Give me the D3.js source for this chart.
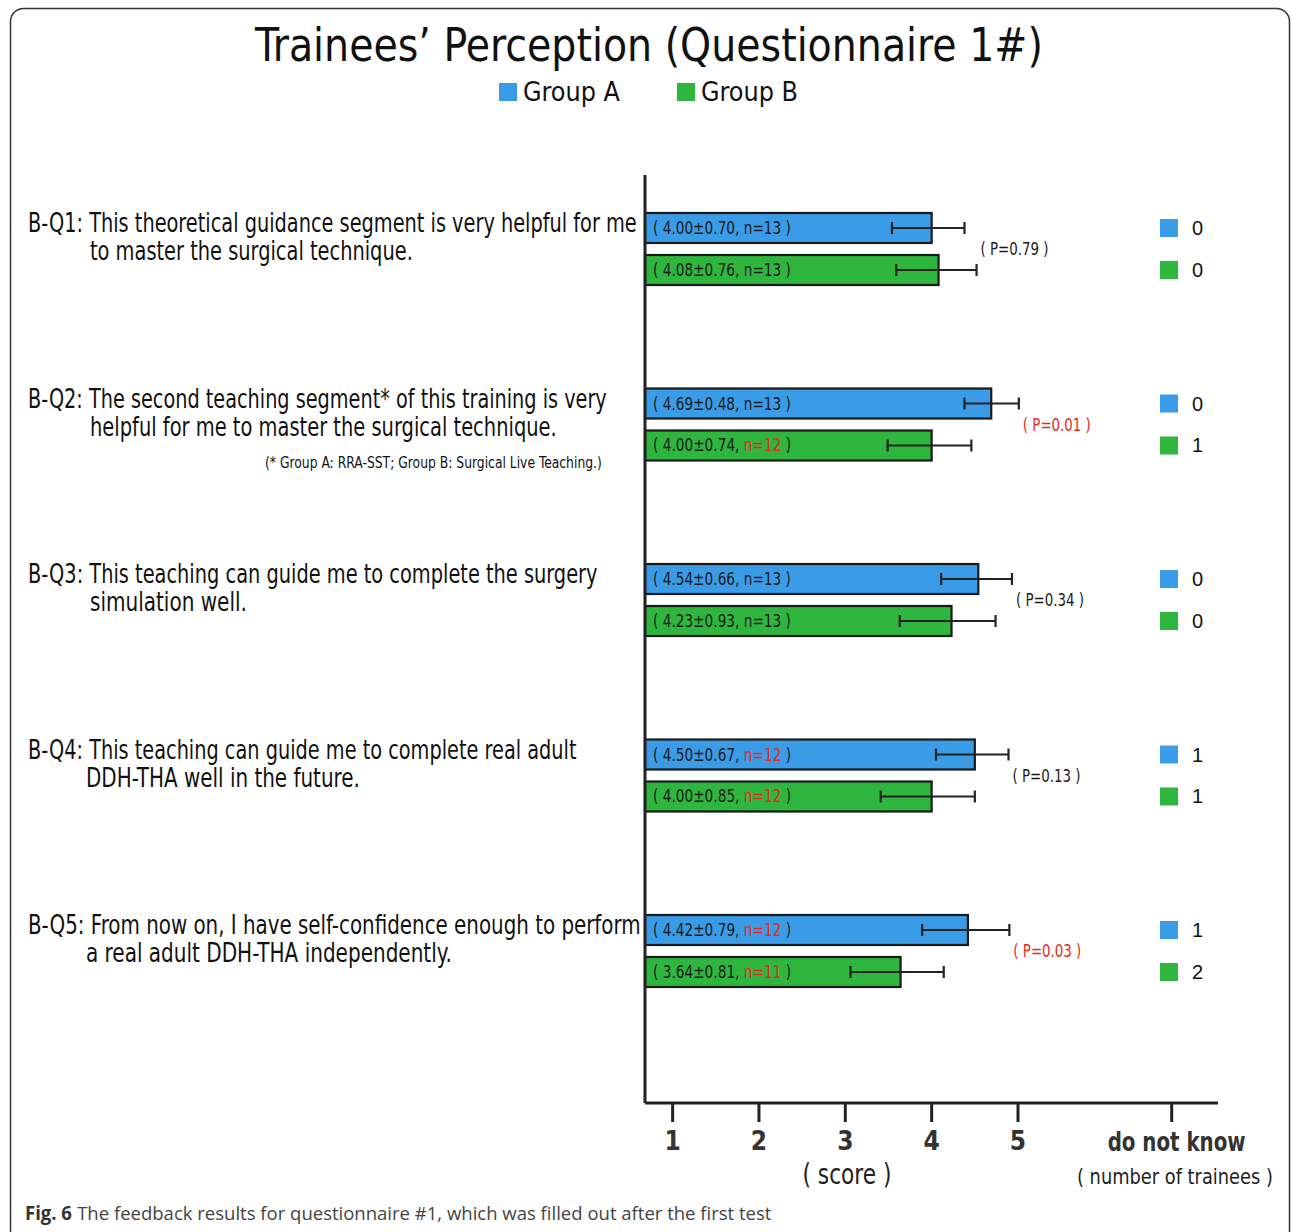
<!DOCTYPE html>
<html><head><meta charset="utf-8">
<script src="https://cdn.jsdelivr.net/npm/d3@7"></script>
<style>body{margin:0;background:#fff}svg{display:block}</style>
</head><body>
<script>
// ---- data ----
const questions = ["B-Q1","B-Q2","B-Q3","B-Q4","B-Q5"];
const questionLines = [
  ["B-Q1: This theoretical guidance segment is very helpful for me","to master the surgical technique."],
  ["B-Q2: The second teaching segment* of this training is very","helpful for me to master the surgical technique."],
  ["B-Q3: This teaching can guide me to complete the surgery","simulation well."],
  ["B-Q4: This teaching can guide me to complete real adult","DDH-THA well in the future."],
  ["B-Q5: From now on, I have self-confidence enough to perform","a real adult DDH-THA independently."]
];
const groups = ["Group A","Group B"];
const meanA = [4.00, 4.69, 4.54, 4.50, 4.42];
const sdA   = [0.70, 0.48, 0.66, 0.67, 0.79];
const nA    = [13, 13, 13, 12, 12];
const meanB = [4.08, 4.00, 4.23, 4.00, 3.64];
const sdB   = [0.76, 0.74, 0.93, 0.85, 0.81];
const nB    = [13, 12, 13, 12, 11];
// error bar ends as drawn in the figure
const errLowA  = [3.54, 4.38, 4.11, 4.05, 3.89];
const errHighA = [4.38, 5.01, 4.93, 4.89, 4.90];
const errLowB  = [3.59, 3.49, 3.63, 3.41, 3.06];
const errHighB = [4.52, 4.46, 4.74, 4.50, 4.14];
const pValues  = ["0.79","0.01","0.34","0.13","0.03"];
const pSignificant = [false,true,false,false,true];
const dontKnowA = [0,0,0,1,1];
const dontKnowB = [0,1,0,1,2];
const nFull = 13;
const tickValues = [1,2,3,4,5,6.78];
const tickLabels = ["1","2","3","4","5","do not know"];

// ---- layout ----
const W = 1292, H = 1232;
const colors = {"Group A":"#3a9be6","Group B":"#2eb63e"};
const red = "#e8281e";
const narrow = "'Liberation Sans Narrow','DejaVu Sans Condensed',sans-serif";

const svg = d3.select("body").append("svg").attr("width",W).attr("height",H);

// helper: pieces of text (possibly differently coloured) laid out in a run,
// horizontally condensed to a target width while keeping glyph height.
function condensed(x, y, parts, fs, targetW, family, anchor){
  const g = svg.append("g");
  const nodes = parts.map(p=> g.append("text").attr("y",0).attr("font-family",family)
     .attr("font-size",fs).attr("font-weight",p.bold?"bold":"normal").attr("fill",p.color).text(p.t));
  const gap = fs*0.28;
  let cx = 0;
  nodes.forEach((n,i)=>{ n.attr("x",cx); cx += n.node().getComputedTextLength() + (i<nodes.length-1?gap:0); });
  const total = cx;
  const s = targetW ? targetW/total : 1;
  const x0 = anchor==="middle" ? x - total*s/2 : x;
  g.attr("transform",`translate(${x0},${y}) scale(${s},1)`);
  return g;
}

// frame
svg.append("rect").attr("x",10.5).attr("y",8.5).attr("width",1279).attr("height",1260)
  .attr("rx",13).attr("fill","none").attr("stroke","#333").attr("stroke-width",1.5);

// title
condensed(649, 61, [{t:"Trainees\u2019 Perception (Questionnaire 1#)",color:"#111"}], 46, 788, narrow, "middle");

// legend
const legX = [499, 677];
groups.forEach((g,i)=>{
  svg.append("rect").attr("x",legX[i]).attr("y",83).attr("width",18).attr("height",18).attr("fill",colors[g]);
  condensed(legX[i]+24, 101, [{t:g,color:"#111"}], 26, 97, narrow);
});

// scales
const x = d3.scaleLinear().domain([0.68,5]).range([645,1018]);
const y = d3.scaleBand().domain(questions).range([200,1077.5]);
const yIn = d3.scaleBand().domain(groups).range([13,85]).paddingInner(0.2857);
const axisX = x.range()[0];
const axisY = 1103;

// data rows
const rows = [];
questions.forEach((q,i)=>{
  rows.push({q,i,g:"Group A",mean:meanA[i],sd:sdA[i],n:nA[i],lo:errLowA[i],hi:errHighA[i],dk:dontKnowA[i]});
  rows.push({q,i,g:"Group B",mean:meanB[i],sd:sdB[i],n:nB[i],lo:errLowB[i],hi:errHighB[i],dk:dontKnowB[i]});
});
const yTop = d=> y(d.q)+yIn(d.g);
const bw = yIn.bandwidth();

// bars
svg.append("g").selectAll("rect").data(rows).join("rect")
  .attr("x",axisX).attr("y",yTop).attr("width",d=>x(d.mean)-axisX).attr("height",bw)
  .attr("fill",d=>colors[d.g]).attr("stroke","#1a1a1a").attr("stroke-width",2.2);

// error bars
const eb = svg.append("g").attr("stroke","#222").attr("stroke-width",2.2);
rows.forEach(d=>{
  const cy = yTop(d)+bw/2;
  eb.append("line").attr("x1",x(d.lo)).attr("x2",x(d.hi)).attr("y1",cy).attr("y2",cy);
  eb.append("line").attr("x1",x(d.lo)).attr("x2",x(d.lo)).attr("y1",cy-6).attr("y2",cy+6);
  eb.append("line").attr("x1",x(d.hi)).attr("x2",x(d.hi)).attr("y1",cy-6).attr("y2",cy+6);
});

// labels inside bars
rows.forEach(d=>{
  const head = `( ${d.mean.toFixed(2)}\u00b1${d.sd.toFixed(2)},`;
  const parts = d.n<nFull
    ? [{t:head,color:"#1a1a1a"},{t:`n=${d.n}`,color:red},{t:")",color:"#1a1a1a"}]
    : [{t:`${head} n=${d.n} )`,color:"#1a1a1a"}];
  condensed(axisX+8, yTop(d)+bw/2+6, parts, 18, 138, narrow);
});

// p values
questions.forEach((q,i)=>{
  const xr = x(Math.max(errHighA[i],errHighB[i]))+4;
  condensed(xr, y(q)+49+6, [{t:`( P=${pValues[i]} )`, color: pSignificant[i]?red:"#1a1a1a"}], 18, 68, narrow);
});

// do not know column
rows.forEach(d=>{
  const cy = yTop(d)+bw/2;
  svg.append("rect").attr("x",1160).attr("y",cy-9).attr("width",18).attr("height",18).attr("fill",colors[d.g]);
  svg.append("text").attr("x",1192).attr("y",cy+7).attr("font-family","'Liberation Sans',sans-serif")
    .attr("font-size",20).attr("fill","#111").text(d.dk);
});

// question labels
questions.forEach((q,i)=>{
  const base = y(q)+32;
  const widths = [[609,323],[579,467],[570,157],[549,274],[613,366]][i];
  const indent = [90,90,90,86,86][i];
  condensed(28, base, [{t:questionLines[i][0],color:"#111"}], 26, widths[0], narrow);
  condensed(indent, base+28, [{t:questionLines[i][1],color:"#111"}], 26, widths[1], narrow);
});
condensed(265, y("B-Q2")+92, [{t:"(* Group A: RRA-SST; Group B: Surgical Live Teaching.)",color:"#111"}], 15, 337, narrow);

// axes
svg.append("line").attr("x1",axisX).attr("x2",axisX).attr("y1",175).attr("y2",axisY)
  .attr("stroke","#222").attr("stroke-width",3);
svg.append("line").attr("x1",axisX).attr("x2",1218).attr("y1",axisY).attr("y2",axisY)
  .attr("stroke","#222").attr("stroke-width",3);
tickValues.forEach((v,i)=>{
  svg.append("line").attr("x1",x(v)).attr("x2",x(v)).attr("y1",axisY).attr("y2",axisY+19)
    .attr("stroke","#222").attr("stroke-width",3);
  const isText = i===tickValues.length-1;
  if(isText){
    condensed(x(v)+5, 1151, [{t:tickLabels[i],color:"#333",bold:true}], 26, 138, narrow, "middle");
  } else {
    svg.append("text").attr("x",x(v)).attr("y",1150).attr("text-anchor","middle")
      .attr("font-family",narrow).attr("font-weight","bold").attr("font-size",26).attr("fill","#333")
      .text(tickLabels[i]);
  }
});
condensed(847, 1184, [{t:"( score )",color:"#222"}], 28, 89, narrow, "middle");
condensed(1175, 1184, [{t:"( number of trainees )",color:"#222"}], 22, 196, narrow, "middle");

// caption
condensed(25, 1220, [
  {t:"Fig. 6", color:"#333", bold:true},
  {t:"The feedback results for questionnaire #1, which was filled out after the first test", color:"#444"}
], 19, 747, "'Open Sans',sans-serif");
</script>
</body></html>
